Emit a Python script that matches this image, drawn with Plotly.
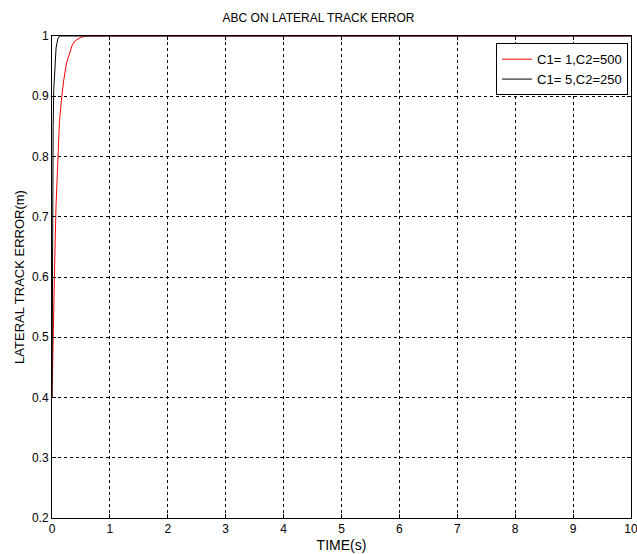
import plotly.graph_objects as go

# Data
t_red = [0, 0.01, 0.02, 0.03, 0.05, 0.07, 0.1, 0.13, 0.17, 0.2, 0.25, 0.3, 0.35, 0.4, 0.5, 0.6, 0.7, 10]
y_red = [0.4, 0.46, 0.52, 0.57, 0.64, 0.72, 0.80, 0.86, 0.90, 0.925, 0.955, 0.972, 0.985, 0.992, 0.998, 1.0, 1.0, 1.0]

t_blk = [0, 0.005, 0.01, 0.02, 0.03, 0.05, 0.07, 0.1, 0.13, 10]
y_blk = [0.4, 0.6, 0.72, 0.85, 0.91, 0.96, 0.98, 0.995, 1.0, 1.0]

x_ticks = list(range(0, 11))
y_ticks = [0.2, 0.3, 0.4, 0.5, 0.6, 0.7, 0.8, 0.9, 1.0]
y_tick_text = ["0.2", "0.3", "0.4", "0.5", "0.6", "0.7", "0.8", "0.9", "1"]

fig = go.Figure()
fig.add_trace(go.Scatter(x=t_red, y=y_red, mode="lines", name="C1= 1,C2=500",
                         line=dict(color="#ff0000", width=1)))
fig.add_trace(go.Scatter(x=t_blk, y=y_blk, mode="lines", name="C1= 5,C2=250",
                         line=dict(color="#000000", width=1)))

font = dict(family="Liberation Sans, Arial, sans-serif", size=12, color="#000000")

fig.update_layout(
    width=637, height=554,
    margin=dict(l=52, r=6, t=36, b=36),
    paper_bgcolor="white", plot_bgcolor="white",
    font=font,
    title=dict(text="ABC ON LATERAL TRACK ERROR", x=0.5, xanchor="center",
               y=1 - 18 / 554, yanchor="middle", font=dict(size=12, family=font["family"])),
    showlegend=True,
    legend=dict(x=0.995, y=0.985, xanchor="right", yanchor="top",
                bgcolor="white", bordercolor="black", borderwidth=1,
                tracegroupgap=0,
                font=dict(size=13, family=font["family"])),
)
fig.update_xaxes(range=[0, 10], tickvals=x_ticks, showline=True, linecolor="black", linewidth=1,
                 mirror="ticks", ticks="inside", ticklen=4, tickcolor="black",
                 showgrid=True, gridcolor="black", griddash="3px,3px", gridwidth=1,
                 zeroline=False, automargin=False, ticklabeloverflow="allow",
                 title=dict(text="TIME(s)", standoff=4))
fig.update_yaxes(range=[0.2, 1], tickvals=y_ticks, ticktext=y_tick_text, showline=True,
                 linecolor="black", linewidth=1, mirror="ticks", ticks="inside", ticklen=4,
                 tickcolor="black", showgrid=True, gridcolor="black", griddash="3px,3px",
                 gridwidth=1, zeroline=False, automargin=False, ticklabeloverflow="allow",
                 title=dict(text="LATERAL TRACK ERROR(m)", standoff=4, font=dict(size=13)))

fig.write_html("out.html")
